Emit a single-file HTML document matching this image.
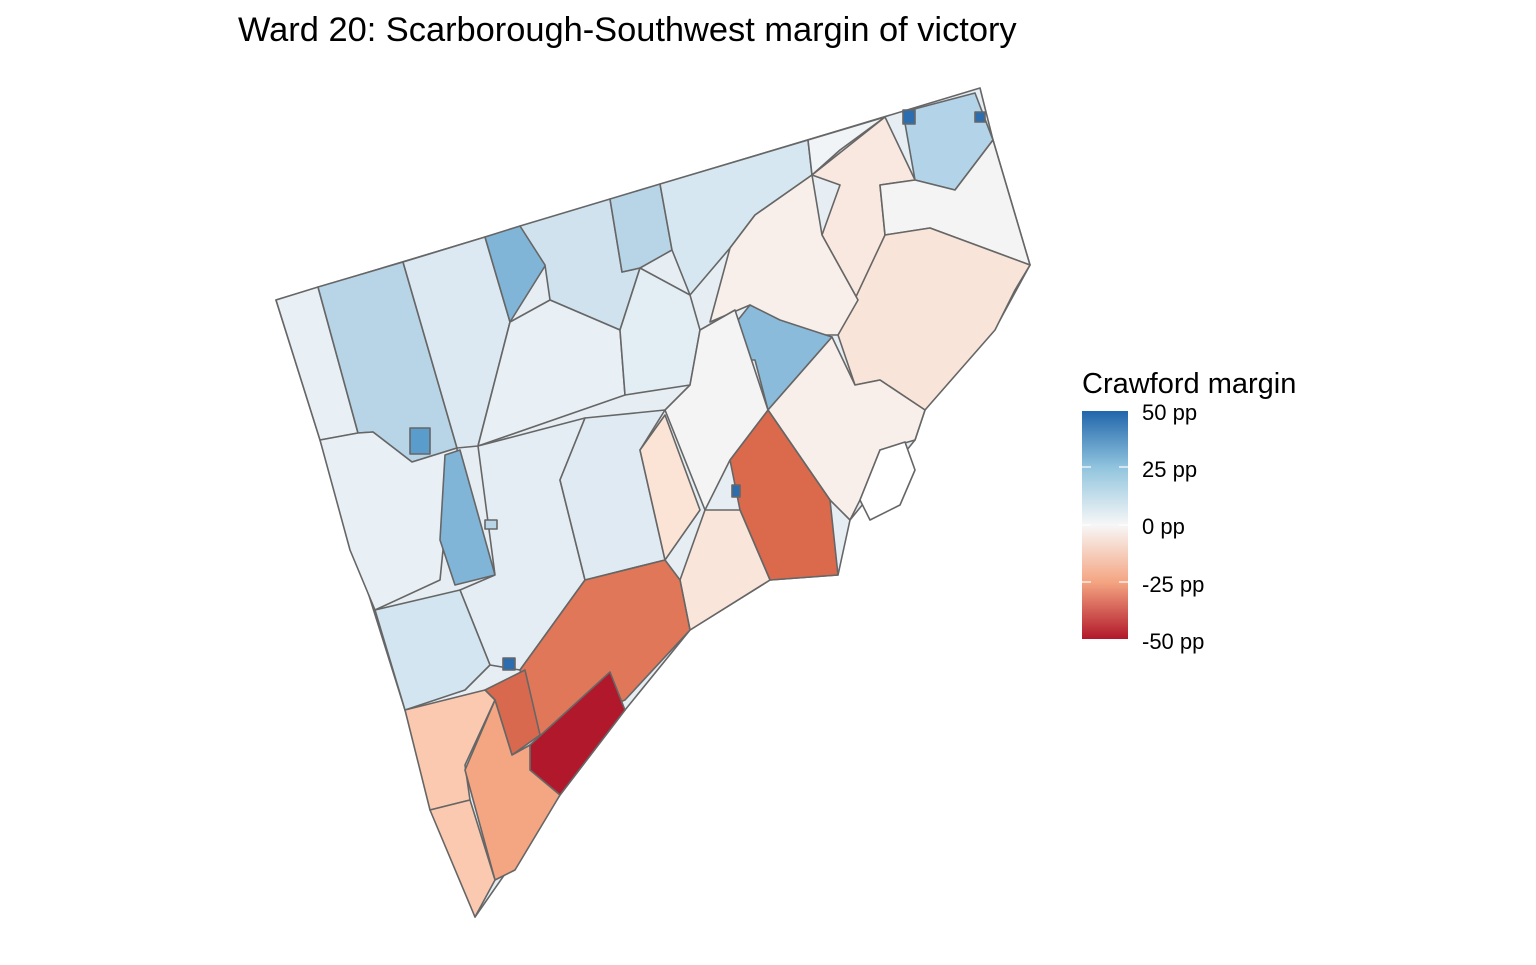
<!DOCTYPE html>
<html><head><meta charset="utf-8"><style>
html,body{margin:0;padding:0;background:#fff;}
body{width:1536px;height:960px;overflow:hidden;font-family:"Liberation Sans",Arial,sans-serif;}
</style></head><body>
<svg width="1536" height="960" viewBox="0 0 1536 960" xmlns="http://www.w3.org/2000/svg">
<defs>
<linearGradient id="g" x1="0" y1="0" x2="0" y2="1">
<stop offset="0" stop-color="#2166ac"/>
<stop offset="0.25" stop-color="#92c5de"/>
<stop offset="0.5" stop-color="#f7f7f7"/>
<stop offset="0.75" stop-color="#f4a582"/>
<stop offset="1" stop-color="#b2182b"/>
</linearGradient>
</defs>
<text x="238" y="41" font-size="34.4" fill="#000">Ward 20: Scarborough-Southwest margin of victory</text>
<g stroke="#666" stroke-width="1.6" stroke-linejoin="round">
<polygon fill="#e6eef4" points="276,300 980,88 993,140 1030,265 1000,320 960,360 925,410 915,440 850,520 838,575 770,580 690,630 625,710 560,795 475,917 405,710"/>
<polygon fill="#e8eff5" points="276,300 318,287 358,433 320,440"/>
<polygon fill="#b8d5e7" points="318,287 403,262 457,448 412,462 373,432 358,433"/>
<polygon fill="#dde9f2" points="403,262 485,237 510,322 478,446 457,448"/>
<polygon fill="#80b5d8" points="485,237 520,226 550,258 510,322"/>
<polygon fill="#cfe2ee" points="520,226 610,199 622,272 640,268 620,330 550,300 545,265"/>
<polygon fill="#b8d5e7" points="610,199 660,184 672,250 640,268 622,272"/>
<polygon fill="#d6e7f1" points="660,184 808,140 812,175 755,215 730,248 690,295 672,250"/>
<polygon fill="#e8eff5" points="510,322 550,300 620,330 625,395 478,446"/>
<polygon fill="#e3edf4" points="620,330 640,268 690,295 700,330 690,385 625,395"/>
<polygon fill="#e8eff5" points="320,440 358,433 373,432 412,462 457,448 460,500 445,530 440,580 375,610 350,550"/>
<polygon fill="#80b5d8" points="445,455 460,450 495,575 455,585 440,540"/>
<polygon fill="#e4edf4" points="478,446 585,418 560,480 585,580 520,670 490,665 460,590 495,575"/>
<polygon fill="#dfeaf3" points="585,418 665,410 640,450 665,560 585,580 560,480"/>
<polygon fill="#d3e5f0" points="375,610 460,590 490,665 465,690 405,710"/>
<polygon fill="#f0f4f7" points="808,140 885,117 840,150 812,175"/>
<polygon fill="#f9e8df" points="812,175 885,117 915,180 880,185 885,235 858,300 822,235 840,185"/>
<polygon fill="#b3d3e8" points="903,112 975,93 993,140 955,190 915,180"/>
<polygon fill="#f4f4f4" points="955,190 993,140 1030,265 930,228 885,235 880,185 915,180"/>
<polygon fill="#f8e4d8" points="930,228 1030,265 1015,290 995,330 960,370 925,410 880,380 855,385 838,335 885,235"/>
<polygon fill="#f8efea" points="755,215 812,175 822,235 858,300 838,335 780,335 750,305 710,322 730,248"/>
<polygon fill="#8abbdb" points="730,330 750,305 780,320 832,337 768,410 755,360 740,360"/>
<polygon fill="#f8efea" points="768,410 832,337 855,385 880,380 925,410 915,440 880,450 860,500 850,520 830,500"/>
<polygon fill="#db6a4d" points="768,410 830,500 838,575 770,580 740,510 730,460"/>
<polygon fill="#f4f4f4" points="700,330 735,310 768,410 730,460 705,510 665,410 690,385"/>
<polygon fill="#f9e5da" points="690,630 770,580 740,510 705,510 680,580"/>
<polygon fill="#fbe4d6" points="640,450 665,415 700,510 665,560"/>
<polygon fill="#e07758" points="585,580 665,560 680,580 690,630 625,700 540,735 520,670"/>
<polygon fill="#d8694e" points="485,690 525,670 540,735 512,755 495,700"/>
<polygon fill="#b2182b" points="530,745 610,672 625,710 560,795 530,770"/>
<polygon fill="#fac9b0" points="405,710 485,690 495,700 465,765 470,800 430,810"/>
<polygon fill="#f4a582" points="495,700 512,755 530,745 530,770 560,795 515,870 495,880 465,770"/>
<polygon fill="#fac9b0" points="430,810 470,800 495,880 475,917"/>
<polygon fill="#ffffff" points="880,450 905,442 915,470 900,505 870,520 860,500"/>
<rect x="410" y="428" width="20" height="26" fill="#5a9ccc"/>
<rect x="903" y="110" width="12" height="14" fill="#2c6db0"/>
<rect x="975" y="112" width="10" height="10" fill="#2c6db0"/>
<rect x="503" y="658" width="12" height="12" fill="#2c6db0"/>
<rect x="732" y="485" width="8" height="12" fill="#2c6db0"/>
<rect x="485" y="520" width="12" height="9" fill="#b8d5e7"/>
</g>
<rect x="1082" y="411" width="46" height="228" fill="url(#g)"/>
<g stroke="#fff" stroke-width="1.2">
<line x1="1082" y1="467" x2="1091" y2="467"/><line x1="1119" y1="467" x2="1128" y2="467"/>
<line x1="1082" y1="525" x2="1091" y2="525"/><line x1="1119" y1="525" x2="1128" y2="525"/>
<line x1="1082" y1="582" x2="1091" y2="582"/><line x1="1119" y1="582" x2="1128" y2="582"/>
</g>
<text x="1082" y="393" font-size="29" fill="#000">Crawford margin</text>
<g font-size="22" fill="#000">
<text x="1142" y="420">50 pp</text>
<text x="1142" y="477">25 pp</text>
<text x="1142" y="534">0 pp</text>
<text x="1142" y="592">-25 pp</text>
<text x="1142" y="649">-50 pp</text>
</g>
</svg>
</body></html>
